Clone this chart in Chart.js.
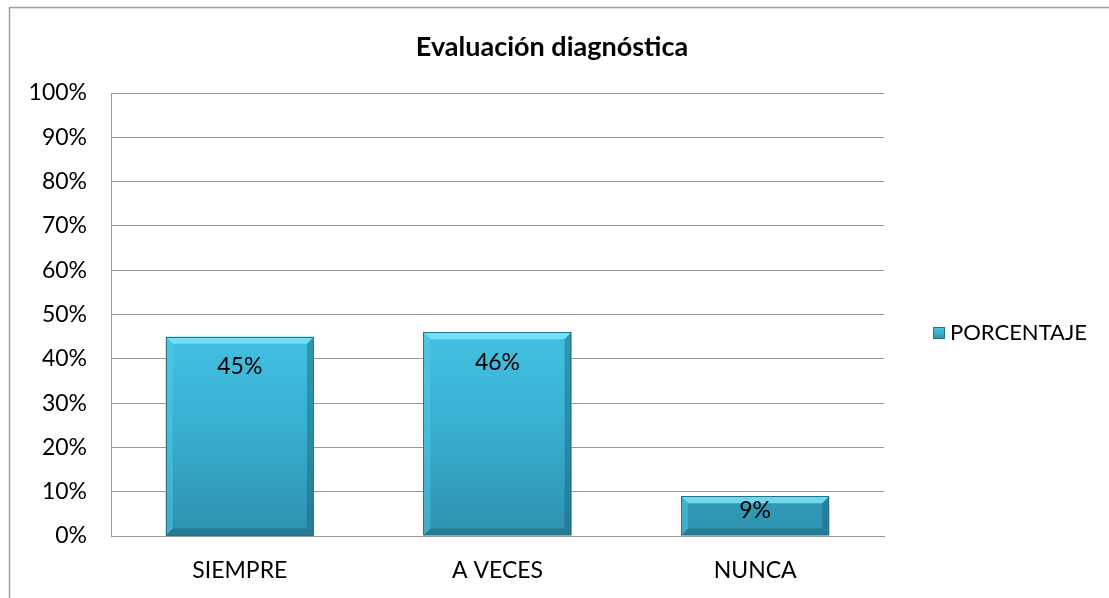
<!DOCTYPE html>
<html>
<head>
<meta charset="utf-8">
<script src="https://cdn.jsdelivr.net/npm/chart.js@4.4.0/dist/chart.umd.min.js"></script>
<style>
  html, body { margin: 0; padding: 0; background: #fff; }
  #wrap { width: 1109px; height: 598px; }
</style>
</head>
<body>
<div id="wrap"><canvas id="evalChart" width="1109" height="598"></canvas></div>
<script>
// data
const categories = ['SIEMPRE', 'A VECES', 'NUNCA'];
const porcentaje = [45, 46, 9];
const seriesName = 'PORCENTAJE';
const chartTitle = 'Evaluación diagnóstica';

const FONT = 'Lato, "Open Sans", sans-serif';
const GRID = '#9a9a9a';

function barFill(ctx, top, bottom) {
    const g = ctx.createLinearGradient(0, top, 0, bottom);
    g.addColorStop(0, '#45c4e4');
    g.addColorStop(0.5, '#38b0d2');
    g.addColorStop(1, '#2e90ad');
    return g;
}

// frame around the chart (only top / left visible) + the title
const framePlugin = {
    id: 'frame',
    beforeDraw(chart) {
        const c = chart.ctx;
        c.save();
        c.strokeStyle = '#a0a0a0';
        c.lineWidth = 1.5;
        c.beginPath();
        c.moveTo(9.5, chart.height + 2);
        c.lineTo(9.5, 7.5);
        c.lineTo(chart.width + 2, 7.5);
        c.stroke();
        c.fillStyle = '#000';
        c.font = 'bold 27px ' + FONT;
        c.textAlign = 'center';
        c.textBaseline = 'middle';
        c.fillText(chartTitle, 552, 47);
        c.restore();
    }
};

// bevel edges + value labels on the bars
const barDecor = {
    id: 'barDecor',
    afterDatasetsDraw(chart) {
        const c = chart.ctx;
        const meta = chart.getDatasetMeta(0);
        meta.data.forEach((bar, i) => {
            const l = bar.x - bar.width / 2, r = bar.x + bar.width / 2;
            const t = bar.y, b = bar.base;
            const e = 7;
            c.save();
            // top bevel (light)
            c.fillStyle = 'rgba(130,230,250,0.8)';
            c.beginPath();
            c.moveTo(l, t); c.lineTo(r, t); c.lineTo(r - e, t + e); c.lineTo(l + e, t + e); c.closePath(); c.fill();
            // left bevel
            c.fillStyle = 'rgba(90,205,235,0.45)';
            c.beginPath();
            c.moveTo(l, t); c.lineTo(l + e, t + e); c.lineTo(l + e, b - e); c.lineTo(l, b); c.closePath(); c.fill();
            // right bevel (dark)
            c.fillStyle = 'rgba(20,90,115,0.4)';
            c.beginPath();
            c.moveTo(r, t); c.lineTo(r, b); c.lineTo(r - e, b - e); c.lineTo(r - e, t + e); c.closePath(); c.fill();
            // bottom bevel (dark)
            c.fillStyle = 'rgba(20,80,105,0.35)';
            c.beginPath();
            c.moveTo(l, b); c.lineTo(r, b); c.lineTo(r - e, b - e); c.lineTo(l + e, b - e); c.closePath(); c.fill();
            // outline
            c.strokeStyle = '#24748a';
            c.lineWidth = 1;
            c.strokeRect(Math.round(l) + 0.5, Math.round(t) + 0.5, Math.round(r - l) - 1, Math.round(b - t) - 1);
            // value label
            c.fillStyle = '#000';
            c.font = '23px ' + FONT;
            c.textAlign = 'center';
            c.textBaseline = 'middle';
            const h = b - t;
            const ly = h > 50 ? t + 30 : t + h / 2 - 5;
            c.fillText(porcentaje[i] + '%', bar.x, ly);
            c.restore();
        });
    }
};

// legend on the right
const sideLegend = {
    id: 'sideLegend',
    afterDraw(chart) {
        const c = chart.ctx;
        const label = chart.data.datasets[0].label;
        c.save();
        c.font = '22px ' + FONT;
        const w = c.measureText(label).width;
        const right = 1087, cy = 333;
        const tx = right - w;
        const bs = 12, bx = tx - bs - 5;
        c.fillStyle = barFill(c, cy - bs / 2, cy + bs / 2);
        c.fillRect(bx, cy - bs / 2, bs, bs);
        c.strokeStyle = '#24748a';
        c.lineWidth = 1;
        c.strokeRect(bx + 0.5, cy - bs / 2 + 0.5, bs - 1, bs - 1);
        c.fillStyle = '#000';
        c.textAlign = 'left';
        c.textBaseline = 'middle';
        c.fillText(label, tx, cy);
        c.restore();
    }
};

const ctx = document.getElementById('evalChart').getContext('2d');
const evalChart = new Chart(ctx, {
    type: 'bar',
    data: {
        labels: categories,
        datasets: [{
            label: seriesName,
            data: porcentaje,
            backgroundColor: (context) => {
                const area = context.chart.chartArea;
                if (!area) return '#38b0d2';
                return barFill(context.chart.ctx, area.top + area.height * 0.5, area.bottom);
            },
            borderWidth: 0,
            barPercentage: 0.575,
            categoryPercentage: 1
        }]
    },
    options: {
        responsive: false,
        animation: false,
        layout: { padding: { left: 10, right: 225, top: 93, bottom: 0 } },
        plugins: {
            legend: { display: false },
            tooltip: { enabled: false },
            title: { display: false }
        },
        scales: {
            x: {
                grid: { display: false, drawTicks: false },
                border: { display: true, color: GRID, width: 1 },
                ticks: { color: '#000', font: { family: FONT, size: 23 }, padding: 21 },
                afterFit(scale) { scale.height = 62; }
            },
            y: {
                min: 0,
                max: 100,
                grid: { color: GRID, lineWidth: 1, drawTicks: false },
                border: { display: true, color: GRID, width: 1 },
                ticks: {
                    stepSize: 10,
                    color: '#000',
                    padding: 24,
                    font: { family: FONT, size: 23 },
                    callback: (v) => v + '%'
                },
                afterFit(scale) { scale.width = 101; }
            }
        }
    },
    plugins: [framePlugin, barDecor, sideLegend]
});
</script>
</body>
</html>
